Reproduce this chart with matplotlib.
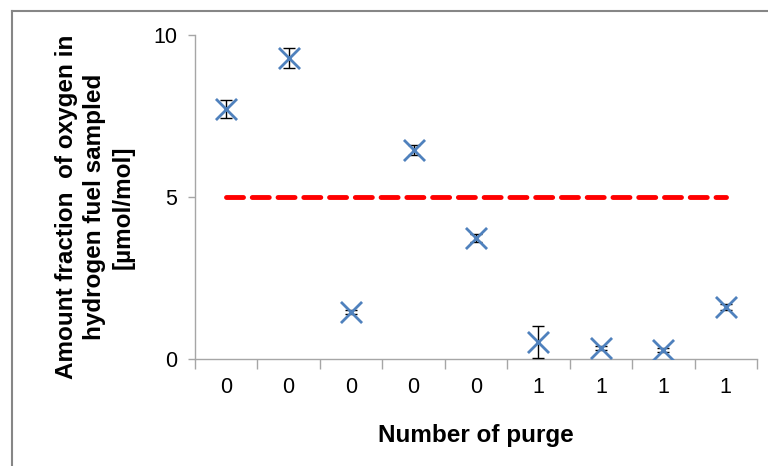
import matplotlib
matplotlib.use("Agg")
import matplotlib.pyplot as plt
from matplotlib.lines import Line2D
import numpy as np

# values
purge_labels = ["0", "0", "0", "0", "0", "1", "1", "1", "1"]
oxygen = [7.72, 9.29, 1.45, 6.45, 3.73, 0.52, 0.34, 0.28, 1.60]
oxygen_err = [0.28, 0.30, 0.06, 0.15, 0.13, 0.50, 0.07, 0.05, 0.09]
limit = 5.0

plt.rcParams["font.family"] = ["Liberation Sans", "DejaVu Sans"]

fig = plt.figure(figsize=(7.68, 4.66), dpi=100)
ax = fig.add_axes([195 / 768, 1 - 359 / 466, 562 / 768, 324 / 466])

x = np.arange(len(oxygen))
ax.errorbar(x, oxygen, yerr=oxygen_err, fmt="none", ecolor="black",
            elinewidth=1, capsize=4, capthick=1, zorder=3)
ax.scatter(x, oxygen, marker="x", s=230, color="#4F81BD", linewidths=2, zorder=4)
ax.plot([x[0], x[-1]], [limit, limit], color="#FF0000", lw=3.5,
        dashes=(3.5, 1.8), dash_capstyle="round", zorder=2)

ax.set_xlim(-0.5, len(oxygen) - 0.5)
ax.set_ylim(0, 10)
ax.set_yticks([0, 5, 10])
ax.set_xticks(x)
ax.set_xticklabels(purge_labels)
ax.set_xticks(np.arange(-0.5, len(oxygen)), minor=True)
ax.tick_params(axis="x", which="major", length=0, pad=13, labelsize=15.5)
ax.tick_params(axis="x", which="minor", length=7, color="#A6A6A6", width=1)
ax.tick_params(axis="y", length=5, color="#A6A6A6", width=1, labelsize=15.5, pad=8)

for side in ["top", "right"]:
    ax.spines[side].set_visible(False)
for side in ["left", "bottom"]:
    ax.spines[side].set_color("#A6A6A6")
    ax.spines[side].set_linewidth(1)

ax.set_xlabel("Number of purge", fontsize=17.5, fontweight="bold", labelpad=19)
fig.text(95 / 768, 1 - 207 / 466,
         "Amount fraction  of oxygen in\nhydrogen fuel sampled\n[µmol/mol]",
         rotation=90, ha="center", va="center", fontsize=17.5,
         fontweight="bold", linespacing=1.3)

# outer chart frame
fig.add_artist(Line2D([12 / 768, 12 / 768], [0, 1 - 11 / 466],
                      transform=fig.transFigure, color="#868686", lw=1.5))
fig.add_artist(Line2D([12 / 768, 1], [1 - 11 / 466, 1 - 11 / 466],
                      transform=fig.transFigure, color="#868686", lw=1.5))

fig.savefig("out.png", dpi=100)
